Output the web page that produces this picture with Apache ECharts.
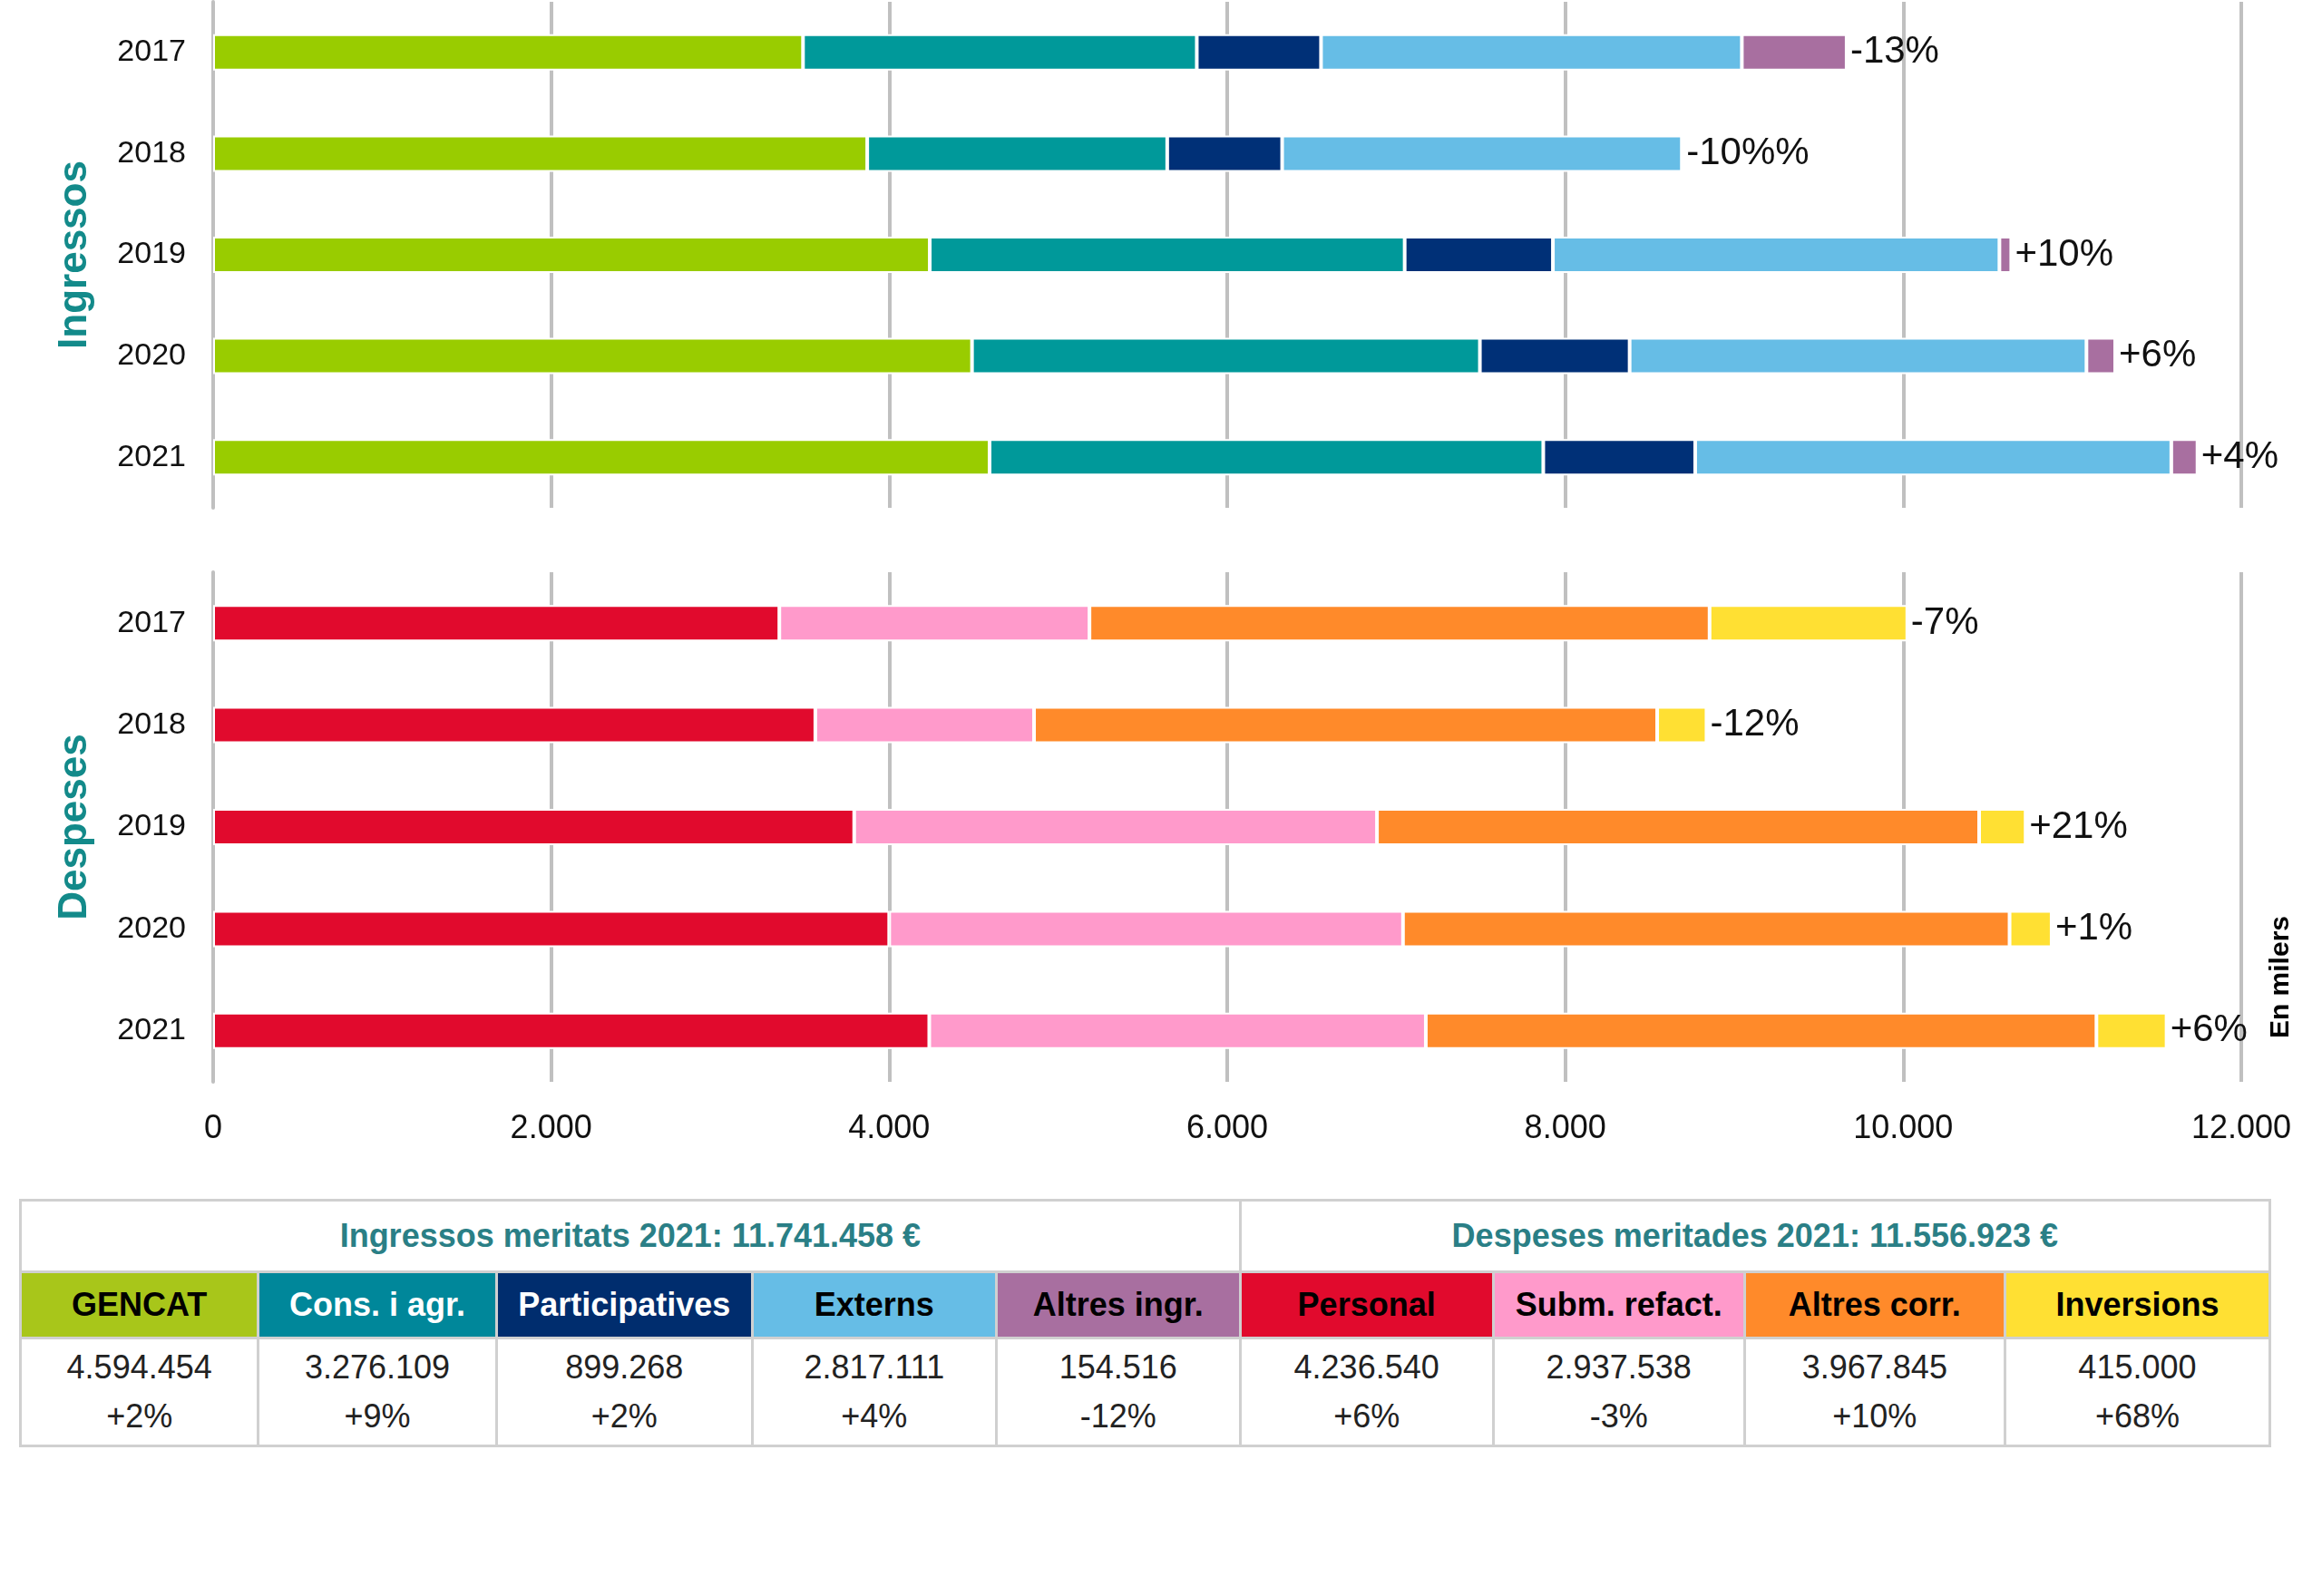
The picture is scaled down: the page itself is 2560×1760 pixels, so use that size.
<!DOCTYPE html>
<html>
<head>
<meta charset="utf-8">
<title>Ingressos i despeses</title>
<style>
  body { margin: 0; background: #fff; font-family: "Liberation Sans", Arial, sans-serif; }
  #chart { position: absolute; left: 0; top: 0; width: 2560px; height: 1300px; }
  #tbl { position: absolute; left: 21px; top: 1322px; width: 2483px; border-collapse: collapse; table-layout: fixed; }
  #tbl td { border: 3px solid #d0d0d0; text-align: center; font-size: 36px; padding: 0; }
  #tbl .ttl td { height: 76px; color: #2a7f86; font-weight: bold; }
  #tbl .hdr td { height: 70px; font-weight: bold; }
  #tbl .val td { height: 116px; line-height: 54px; color: #222; }
</style>
</head>
<body>
<div id="chart"></div>
<table id="tbl">
  <colgroup id="cols"></colgroup>
  <tr class="ttl"><td colspan="5">Ingressos meritats 2021: 11.741.458 €</td><td colspan="4">Despeses meritades 2021: 11.556.923 €</td></tr>
  <tr class="hdr" id="hdr"></tr>
  <tr class="val" id="val"></tr>
</table>
<script src="https://cdn.jsdelivr.net/npm/echarts@6/dist/echarts.min.js"></script>
<script>
// anys
var years = ["2017", "2018", "2019", "2020", "2021"];

// ingressos (milers)
var gencat = [3490, 3870, 4240, 4490, 4594];
var consAgr = [2330, 1775, 2810, 3005, 3276];
var particip = [735, 680, 877, 886, 899];
var externs = [2490, 2365, 2642, 2703, 2817];
var altresIngr = [620, 0, 70, 170, 155];
var pctIngr = ["-13%", "-10%%", "+10%", "+6%", "+4%"];

// despeses (milers)
var personal = [3350, 3563, 3793, 4000, 4237];
var submRefact = [1835, 1294, 3093, 3040, 2938];
var altresCorr = [3669, 3687, 3563, 3589, 3968];
var inversions = [1170, 292, 275, 249, 415];
var pctDesp = ["-7%", "-12%", "+21%", "+1%", "+6%"];

var xTicks = [0, 2000, 4000, 6000, 8000, 10000, 12000];

// taula
var tNames = ["GENCAT", "Cons. i agr.", "Participatives", "Externs", "Altres ingr.", "Personal", "Subm. refact.", "Altres corr.", "Inversions"];
var tValues = ["4.594.454", "3.276.109", "899.268", "2.817.111", "154.516", "4.236.540", "2.937.538", "3.967.845", "415.000"];
var tPct = ["+2%", "+9%", "+2%", "+4%", "-12%", "+6%", "-3%", "+10%", "+68%"];
var tBg = ["#a8c61a", "#00879a", "#002d6e", "#66bde6", "#a86fa0", "#e10a2d", "#ff9acb", "#ff8a2a", "#ffe033"];
var tFg = ["#000", "#fff", "#fff", "#000", "#000", "#000", "#000", "#000", "#000"];
var tW = [159, 159, 171, 163, 163, 169, 168, 174, 177];

var cols = document.getElementById("cols"), hdr = document.getElementById("hdr"), val = document.getElementById("val");
var tot = tW.reduce(function (a, b) { return a + b; }, 0);
tNames.forEach(function (n, i) {
  var c = document.createElement("col"); c.style.width = (tW[i] / tot * 100) + "%"; cols.appendChild(c);
  var h = document.createElement("td"); h.textContent = n; h.style.background = tBg[i]; h.style.color = tFg[i]; hdr.appendChild(h);
  var v = document.createElement("td"); v.innerHTML = tValues[i] + "<br>" + tPct[i]; val.appendChild(v);
});

var fmt = function (v) { return v === 0 ? "0" : (v / 1000).toFixed(3); };

function bar(name, data, color, idx, pct) {
  var s = {
    name: name, type: "bar", stack: "s" + idx, data: data,
    xAxisIndex: idx, yAxisIndex: idx, barWidth: 40,
    itemStyle: { color: color, borderColor: "#fff", borderWidth: 2 }
  };
  if (pct) {
    s.label = { show: true, position: "right", distance: 4, fontSize: 42, color: "#111",
      fontFamily: "Liberation Sans", formatter: function (p) { return pct[p.dataIndex]; } };
  }
  return s;
}

var chart = echarts.init(document.getElementById("chart"));
var axisX = function (idx, showLabel) {
  return {
    gridIndex: idx, type: "value", min: 0, max: 12000, interval: 2000,
    axisLine: { show: false }, axisTick: { show: false },
    splitLine: { lineStyle: { color: "#c0c0c0", width: 4 } },
    axisLabel: { show: showLabel, fontSize: 36, color: "#111", margin: 34, formatter: fmt, fontFamily: "Liberation Sans" }
  };
};
var axisY = function (idx, title) {
  return {
    gridIndex: idx, type: "category", data: years, inverse: true,
    axisLine: { lineStyle: { color: "#c0c0c0", width: 4 } }, axisTick: { show: false },
    axisLabel: { fontSize: 34, color: "#111", margin: 30, fontFamily: "Liberation Sans" },
    name: title, nameLocation: "middle", nameGap: 130, nameRotate: 90,
    nameTextStyle: { fontSize: 44, fontWeight: "bold", color: "#138a8a", fontFamily: "Liberation Sans" }
  };
};
chart.setOption({
  animation: false,
  grid: [
    { left: 235, right: 89, top: 2, height: 558 },
    { left: 235, right: 89, top: 631, height: 562 }
  ],
  xAxis: [axisX(0, false), axisX(1, true)],
  yAxis: [axisY(0, "Ingressos"), axisY(1, "Despeses")],
  graphic: [{
    type: "text", left: 2500, top: 1010, rotation: Math.PI / 2,
    style: { text: "En milers", fontSize: 30, fontWeight: "bold", fill: "#000", fontFamily: "Liberation Sans" }
  }],
  series: [
    bar("GENCAT", gencat, "#99cc00", 0),
    bar("Cons. i agr.", consAgr, "#00999a", 0),
    bar("Participatives", particip, "#003077", 0),
    bar("Externs", externs, "#66bde6", 0),
    bar("Altres ingr.", altresIngr, "#a86fa0", 0, pctIngr),
    bar("Personal", personal, "#e10a2d", 1),
    bar("Subm. refact.", submRefact, "#ff9acb", 1),
    bar("Altres corr.", altresCorr, "#ff8a2a", 1),
    bar("Inversions", inversions, "#ffe033", 1, pctDesp)
  ]
});
</script>
</body>
</html>
